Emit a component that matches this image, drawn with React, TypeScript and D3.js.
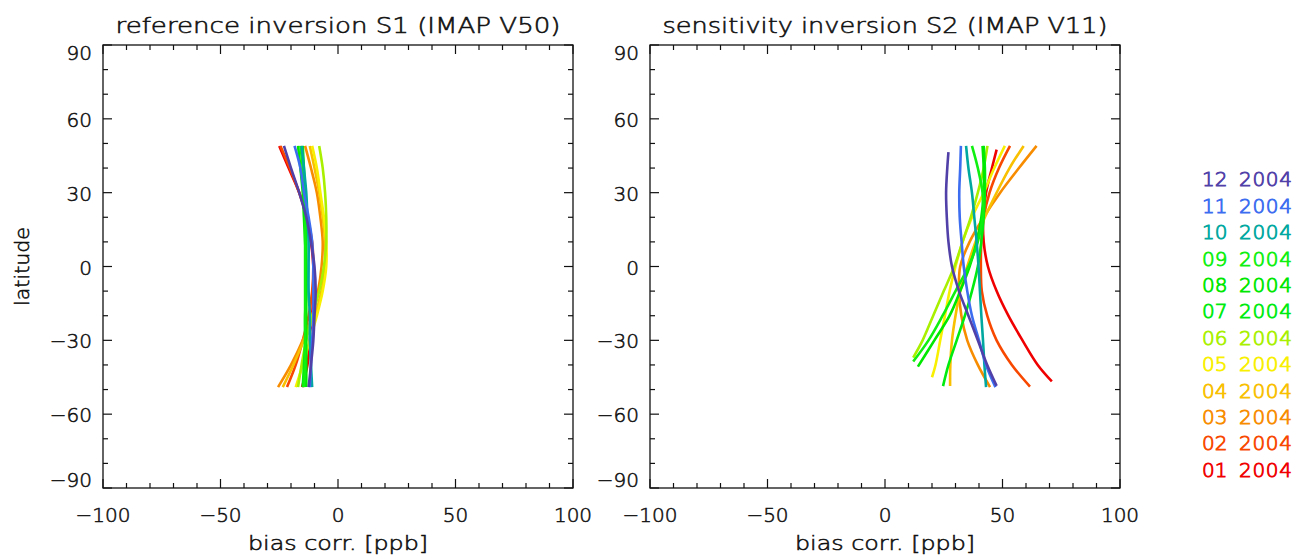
import React, { useEffect, useRef } from "react";
import * as d3 from "d3";

const months = ["01", "02", "03", "04", "05", "06", "07", "08", "09", "10", "11", "12"];
const year = "2004";
const monthColors = [
  "#f00000", "#f84800", "#f88c00", "#f8c000", "#f8f000", "#a8f000",
  "#00ec10", "#00e800", "#10f010", "#00a8a0", "#3c6cf0", "#5040a8",
];

const xTicks = [-100, -50, 0, 50, 100];
const yTicks = [-90, -60, -30, 0, 30, 60, 90];

// S1: bias at fixed latitudes
const s1Lat = [49, 40, 30, 20, 10, 0, -10, -20, -30, -40, -49];
const s1Bias = [
  [-25, -21, -16.5, -13.5, -11.5, -10.5, -10.5, -11, -12, -13, -15.3],
  [-24.5, -20.5, -16.5, -13, -11, -10.5, -11, -12.5, -15, -18, -21.7],
  [-14, -11.5, -9, -7.5, -6.5, -7, -8.5, -11, -15, -20, -25.5],
  [-12, -10, -8, -6.5, -5.5, -5.5, -7, -10, -14.5, -19, -23.5],
  [-11, -9, -7.5, -6, -5, -5, -6.5, -9, -12, -15, -18],
  [-8, -6.5, -5.5, -5, -5, -6, -8, -11, -13.5, -15.5, -17],
  [-15, -14.5, -14, -13.5, -13.5, -13.5, -13.5, -14, -14, -14.5, -15],
  [-17, -16, -15, -14.5, -14, -13.5, -13.5, -13.5, -13.5, -13.5, -13.5],
  [-16, -15, -14.5, -14, -14, -14, -14, -14, -14, -14, -14.5],
  [-15.5, -14.5, -13.5, -13, -12.5, -12.5, -12.5, -12, -12, -11.5, -11],
  [-18.5, -16, -14.5, -12.5, -11, -10.5, -10.5, -10.5, -11, -11.5, -12],
  [-23, -20, -16.5, -13.5, -11.5, -10, -9.5, -10, -10.5, -11.5, -12.5],
];

// S2: [latitude, bias] pairs
const s2Curves = [
  [[47.5, 47.5], [40, 45.5], [30, 43], [20, 41.8], [10, 42], [0, 43.8], [-10, 47.5], [-20, 52.5], [-30, 58.5], [-40, 65], [-46.7, 71]],
  [[49, 53.2], [40, 48.5], [30, 44.5], [20, 42], [10, 41], [0, 40.8], [-10, 41.2], [-20, 43.5], [-30, 47.5], [-40, 54], [-48.8, 61.7]],
  [[49, 64.5], [40, 57], [30, 49], [20, 42], [10, 36], [0, 32], [-10, 31.5], [-20, 32.5], [-30, 35], [-40, 39.5], [-49, 44.7]],
  [[49, 59], [40, 53], [30, 47.5], [20, 42.5], [10, 38.5], [0, 35], [-10, 32], [-20, 30], [-30, 28.5], [-40, 27.8], [-48.6, 27.7]],
  [[49, 51], [40, 46.5], [30, 42], [20, 37], [10, 33], [0, 30], [-10, 27.5], [-20, 25.5], [-30, 23.5], [-40, 21.5], [-45, 20]],
  [[49, 43.6], [40, 42], [30, 39.5], [20, 36.5], [10, 33], [0, 29.5], [-10, 25], [-20, 20.5], [-30, 16], [-37, 12]],
  [[49, 42], [40, 42.5], [30, 42.5], [20, 42], [10, 41], [0, 39.5], [-10, 37], [-20, 34], [-30, 30.5], [-40, 27], [-48.6, 24.7]],
  [[49, 41.5], [40, 42], [30, 42], [20, 41], [10, 39], [0, 36], [-10, 32], [-20, 27.5], [-30, 21], [-40.7, 14]],
  [[49, 37], [40, 39.5], [30, 41.5], [20, 41.5], [10, 39.5], [0, 35.5], [-10, 30], [-20, 24.5], [-30, 18.5], [-38.6, 12]],
  [[49, 34.5], [40, 35.5], [30, 37], [20, 38], [10, 39], [0, 39.8], [-10, 40.4], [-20, 41], [-30, 41.7], [-40, 42.3], [-49, 43]],
  [[49, 32.3], [40, 32], [30, 31.6], [20, 31.8], [10, 32.6], [0, 33.5], [-10, 35], [-20, 37], [-30, 40], [-40, 43], [-49, 47]],
  [[46.5, 27], [40, 26.5], [30, 26], [20, 26.3], [10, 27], [0, 28.5], [-10, 31.5], [-20, 35.5], [-30, 39.5], [-40, 43.5], [-48.5, 47.5]],
];

const titles = ["reference inversion S1 (IMAP V50)", "sensitivity inversion S2 (IMAP V11)"];

const FONT = "'DejaVu Sans ExtraLight', 'DejaVu Sans', sans-serif";
const WEIGHT = 200;
const INK = "#111";

const App = () => {
  const ref = useRef<SVGSVGElement>(null);

  useEffect(() => {
    const svg = d3.select(ref.current);
    svg.selectAll("*").remove();

    const top = 45;
    const bottom = 488;
    const panels = [
      { x0: 103, x1: 573 },
      { x0: 650, x1: 1120 },
    ];

    const y = d3.scaleLinear().domain([-90, 90]).range([bottom, top]);

    const s1Data = s1Bias.map((vals) => vals.map((v, i) => [s1Lat[i], v]));
    const allData = [s1Data, s2Curves];

    // thin font, thickened a little with a matching stroke
    const label = (sel: any, color = INK, size = 20, sw = 0.55) =>
      sel
        .attr("font-family", FONT)
        .attr("font-weight", WEIGHT)
        .attr("font-size", size)
        .attr("fill", color)
        .attr("stroke", color)
        .attr("stroke-width", sw);

    panels.forEach((p, pi) => {
      const x = d3.scaleLinear().domain([-100, 100]).range([p.x0, p.x1]);
      const g = svg.append("g");

      // curves
      const line = d3
        .line<number[]>()
        .x((d) => x(d[1]))
        .y((d) => y(d[0]))
        .curve(d3.curveCatmullRom);

      allData[pi].forEach((c, i) => {
        g.append("path")
          .datum(c as number[][])
          .attr("d", line)
          .attr("fill", "none")
          .attr("stroke", monthColors[i])
          .attr("stroke-width", 2.6);
      });

      // frame
      g.append("rect")
        .attr("x", p.x0)
        .attr("y", top)
        .attr("width", p.x1 - p.x0)
        .attr("height", bottom - top)
        .attr("fill", "none")
        .attr("stroke", INK)
        .attr("stroke-width", 1.3);

      // x ticks (bottom + top)
      d3.range(-100, 101, 10).forEach((v) => {
        const len = v % 50 === 0 ? 9 : 5;
        const xx = x(v);
        g.append("line").attr("x1", xx).attr("x2", xx).attr("y1", bottom).attr("y2", bottom - len)
          .attr("stroke", INK).attr("stroke-width", 1.2);
        g.append("line").attr("x1", xx).attr("x2", xx).attr("y1", top).attr("y2", top + len)
          .attr("stroke", INK).attr("stroke-width", 1.2);
      });
      // y ticks (left + right)
      d3.range(-90, 91, 10).forEach((v) => {
        const len = v % 30 === 0 ? 9 : 5;
        const yy = y(v);
        g.append("line").attr("x1", p.x0).attr("x2", p.x0 + len).attr("y1", yy).attr("y2", yy)
          .attr("stroke", INK).attr("stroke-width", 1.2);
        g.append("line").attr("x1", p.x1).attr("x2", p.x1 - len).attr("y1", yy).attr("y2", yy)
          .attr("stroke", INK).attr("stroke-width", 1.2);
      });

      xTicks.forEach((v) => {
        label(g.append("text"))
          .attr("x", x(v))
          .attr("y", 522)
          .attr("text-anchor", "middle")
          .text(v < 0 ? "\u2212" + Math.abs(v) : String(v));
      });

      yTicks.forEach((v) => {
        const base = Math.min(Math.max(y(v) + 8, 60), 487);
        label(g.append("text"))
          .attr("x", p.x0 - 11)
          .attr("y", base)
          .attr("text-anchor", "end")
          .text(v < 0 ? "\u2212" + Math.abs(v) : String(v));
      });

      const cx = (p.x0 + p.x1) / 2;
      label(g.append("text"), INK, 21)
        .attr("x", cx)
        .attr("y", 33)
        .attr("text-anchor", "middle")
        .attr("textLength", 445)
        .attr("lengthAdjust", "spacingAndGlyphs")
        .text(titles[pi]);

      label(g.append("text"))
        .attr("x", cx)
        .attr("y", 550)
        .attr("text-anchor", "middle")
        .attr("textLength", 180)
        .attr("lengthAdjust", "spacingAndGlyphs")
        .text("bias corr. [ppb]");
    });

    // y axis title
    label(svg.append("text"))
      .attr("transform", `translate(29, ${y(0)}) rotate(-90)`)
      .attr("text-anchor", "middle")
      .attr("textLength", 79)
      .attr("lengthAdjust", "spacingAndGlyphs")
      .text("latitude");

    // legend, 12 at top
    months.forEach((m, i) => {
      const base = 476.7 - i * 26.4;
      label(svg.append("text"), monthColors[i], 20, 0.9)
        .attr("x", 1202)
        .attr("y", base)
        .text(m);
      label(svg.append("text"), monthColors[i], 20, 0.9)
        .attr("x", 1239)
        .attr("y", base)
        .attr("textLength", 53)
        .text(year);
    });
  }, []);

  return (
    <svg
      ref={ref}
      width={1294}
      height={555}
      style={{ position: "absolute", left: 0, top: 0, background: "#fff" }}
    />
  );
};

export default App;
